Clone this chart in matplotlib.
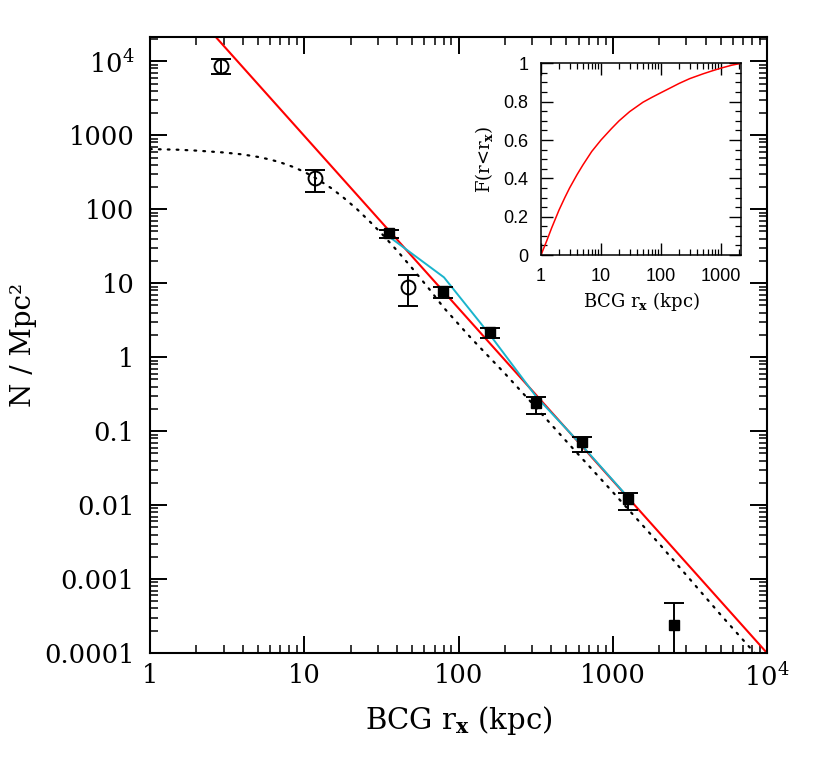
import numpy as np
import matplotlib
matplotlib.use("Agg")
import matplotlib.pyplot as plt
from matplotlib.ticker import LogLocator, MultipleLocator, NullFormatter

# values

# open circles (inner bins)
circ_r = [2.9, 11.7, 47.0]
circ_n = [8560.0, 263.0, 8.9]
circ_lo = [6670.0, 170.0, 4.9]
circ_hi = [10700.0, 339.0, 12.8]

# filled squares
sq_r = [35.4, 79.3, 160.0, 318.0, 631.0, 1260.0, 2500.0]
sq_n = [47.0, 7.8, 2.18, 0.24, 0.071, 0.012, 0.00024]
sq_lo = [41.0, 6.4, 1.8, 0.17, 0.052, 0.0087, 1e-7]
sq_hi = [53.0, 8.8, 2.5, 0.29, 0.083, 0.0147, 0.00048]

# red power law (end points)
pl_r = [1.0, 1e4]
pl_n = [2.1e5, 1e-4]

# cyan polyline
cyan_r = [34.4, 80.5, 160.0, 320.0, 640.0, 1280.0]
cyan_n = [44.6, 12.0, 2.0, 0.29, 0.062, 0.0122]

# dotted cored profile
dot_r = [1, 1.5, 2, 3, 4, 5, 6, 7, 8.5, 10, 12, 15, 18, 22, 27, 32, 40, 50,
         65, 80, 120, 200, 300, 500, 1000, 2000, 5000, 10000]
dot_n = [650, 638, 620, 585, 550, 510, 470, 430, 372, 320, 260, 192, 143,
         100, 66, 46, 27.5, 16.0, 8.2, 4.7, 1.83, 0.6, 0.238, 0.073, 0.015,
         0.003, 0.00033, 0.000065]

# inset: cumulative fraction
cum_r = [1.0, 1.25, 1.5, 2.0, 2.5, 3.0, 4.0, 5.0, 7.0, 10.0, 15.0, 20.0,
         30.0, 50.0, 70.0, 100.0, 150.0, 200.0, 300.0, 500.0, 700.0, 1000.0,
         1500.0, 2150.0]
cum_f = [0.0, 0.075, 0.14, 0.235, 0.30, 0.35, 0.42, 0.47, 0.54, 0.60, 0.66,
         0.70, 0.748, 0.797, 0.822, 0.847, 0.875, 0.895, 0.92, 0.945, 0.96,
         0.975, 0.99, 1.0]

x_ticks = [1, 10, 100, 1000, 1e4]
x_labels = ['1', '10', '100', '1000', r'$\mathregular{10^4}$']
y_ticks = [1e-4, 1e-3, 1e-2, 0.1, 1, 10, 100, 1000, 1e4]
y_labels = ['0.0001', '0.001', '0.01', '0.1', '1', '10', '100', '1000',
            r'$\mathregular{10^4}$']

plt.rcParams['mathtext.fontset'] = 'dejavuserif'
serif = 'DejaVu Serif'
sans = 'Liberation Sans'

fig = plt.figure(figsize=(8.31, 7.74), dpi=100)
ax = fig.add_axes([0.1805, 0.1563, 0.7425, 0.7959])

ax.plot(dot_r, dot_n, color='black', lw=1.6, linestyle=(0, (0.8, 3.2)),
        dash_capstyle='round')
ax.plot(pl_r, pl_n, color='red', lw=1.5)
ax.plot(cyan_r, cyan_n, color='#1ab4cc', lw=1.4)

c_n = np.array(circ_n)
ax.errorbar(circ_r, circ_n,
            yerr=[c_n - np.array(circ_lo), np.array(circ_hi) - c_n],
            fmt='o', mfc='none', mec='black', mew=1.4, ms=10,
            ecolor='black', elinewidth=1.4, capsize=7, capthick=1.4)
s_n = np.array(sq_n)
ax.errorbar(sq_r, sq_n,
            yerr=[s_n - np.array(sq_lo), np.array(sq_hi) - s_n],
            fmt='s', color='black', ms=7,
            ecolor='black', elinewidth=1.4, capsize=7, capthick=1.4)

ax.set_xscale('log')
ax.set_yscale('log')
ax.set_xlim(1, 1e4)
ax.set_ylim(1e-4, 2.13e4)
ax.set_xticks(x_ticks, x_labels)
ax.set_yticks(y_ticks, y_labels)
ax.xaxis.set_minor_locator(LogLocator(base=10, subs=np.arange(2, 10), numticks=20))
ax.yaxis.set_minor_locator(LogLocator(base=10, subs=np.arange(2, 10), numticks=20))
ax.xaxis.set_minor_formatter(NullFormatter())
ax.yaxis.set_minor_formatter(NullFormatter())
ax.tick_params(which='both', direction='in', top=True, right=True)
ax.tick_params(which='major', length=12.5, width=1.4, labelsize=18.5)
ax.tick_params(which='minor', length=6, width=1.1)
ax.tick_params(axis='x', which='major', pad=7)
ax.tick_params(axis='y', which='major', pad=11)
for lab in ax.get_xticklabels() + ax.get_yticklabels():
    lab.set_family(serif)
for sp in ax.spines.values():
    sp.set_linewidth(1.5)

ax.set_xlabel(r'BCG r$_\mathbf{x}$ (kpc)', family=serif, fontsize=21, labelpad=10)
ax.set_ylabel('N / Mpc²', family=serif, fontsize=20)
ax.yaxis.set_label_coords(-0.183, 0.5)

# inset
ins = fig.add_axes([0.651, 0.6705, 0.2407, 0.2477])
ins.plot(cum_r, cum_f, color='red', lw=1.1)
ins.set_xscale('log')
ins.set_xlim(1, 2150)
ins.set_ylim(0, 1)
ins.set_xticks([1, 10, 100, 1000], ['1', '10', '100', '1000'])
ins.set_yticks([0, 0.2, 0.4, 0.6, 0.8, 1], ['0', '0.2', '0.4', '0.6', '0.8', '1'])
ins.xaxis.set_minor_locator(LogLocator(base=10, subs=np.arange(2, 10), numticks=20))
ins.xaxis.set_minor_formatter(NullFormatter())
ins.yaxis.set_minor_locator(MultipleLocator(0.05))
ins.tick_params(which='both', direction='in', top=True, right=True)
ins.tick_params(which='major', length=8.5, width=1.0, labelsize=13, pad=9)
ins.tick_params(which='minor', length=4, width=0.9)
for lab in ins.get_xticklabels() + ins.get_yticklabels():
    lab.set_family(sans)
for sp in ins.spines.values():
    sp.set_linewidth(1.1)
ins.set_xlabel(r'BCG r$_\mathbf{x}$ (kpc)', family=serif, fontsize=13, labelpad=4)
ins.set_ylabel(r'F(r<r$_\mathbf{x}$)', family=serif, fontsize=13, labelpad=6)

fig.savefig('out.png', dpi=100)
